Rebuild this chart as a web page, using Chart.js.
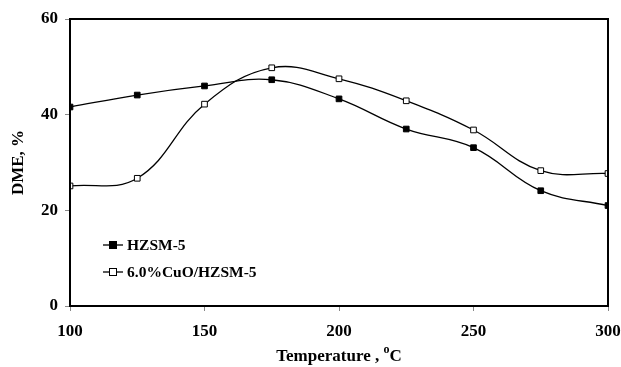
<!DOCTYPE html>
<html>
<head>
<meta charset="utf-8">
<script src="https://cdn.jsdelivr.net/npm/chart.js@4.4.1/dist/chart.umd.min.js"></script>
<style>
  html, body { margin: 0; padding: 0; background: #fff; }
  #wrap { width: 621px; height: 367px; }
</style>
</head>
<body>
<div id="wrap"><canvas id="dme"></canvas></div>
<script>
"use strict";

const temps = [100, 125, 150, 175, 200, 225, 250, 275, 300];
const hzsm = [41.6, 44.1, 46.0, 47.3, 43.3, 37.0, 33.1, 24.1, 21.0];
const cuo = [25.1, 26.7, 42.2, 49.8, 47.5, 42.9, 36.8, 28.3, 27.7];
const seriesNames = ["HZSM-5", "6.0%CuO/HZSM-5"];
const xTicks = [100, 150, 200, 250, 300];
const yTicks = [0, 20, 40, 60];

const FONT = "'Liberation Serif', 'Times New Roman', serif";

function toPoints(values) {
  return values.map((v, i) => ({ x: temps[i], y: v }));
}

// box round the plot, legend inside it, and the x title with a raised "o"
const decorations = {
  id: "decorations",
  afterDraw(chart) {
    const ctx = chart.ctx;
    const a = chart.chartArea;
    ctx.save();
    ctx.strokeStyle = "#000";
    ctx.lineWidth = 2;
    ctx.strokeRect(a.left, a.top, a.right - a.left, a.bottom - a.top);

    // legend
    const rows = [
      { y: 245, fill: "#000", label: seriesNames[0] },
      { y: 272, fill: "#fff", label: seriesNames[1] },
    ];
    rows.forEach((r) => {
      ctx.lineWidth = 1.3;
      ctx.strokeStyle = "#000";
      ctx.beginPath();
      ctx.moveTo(103, r.y);
      ctx.lineTo(123, r.y);
      ctx.stroke();
      ctx.fillStyle = r.fill;
      ctx.fillRect(109, r.y - 4, 8, 8);
      ctx.lineWidth = 1;
      ctx.strokeRect(109.5, r.y - 3.5, 7, 7);
      ctx.fillStyle = "#000";
      ctx.font = "bold 15.5px " + FONT;
      ctx.textBaseline = "middle";
      ctx.textAlign = "left";
      ctx.fillText(r.label, 127, r.y + 1);
    });

    // x axis title
    const main = "Temperature , ";
    ctx.font = "bold 17px " + FONT;
    const w1 = ctx.measureText(main).width;
    ctx.font = "bold 12px " + FONT;
    const w2 = ctx.measureText("o").width;
    ctx.font = "bold 17px " + FONT;
    const w3 = ctx.measureText("C").width;
    const cx = (a.left + a.right) / 2;
    let x = cx - (w1 + w2 + w3) / 2;
    const base = 361;
    ctx.textBaseline = "alphabetic";
    ctx.textAlign = "left";
    ctx.fillText(main, x, base);
    x += w1;
    ctx.font = "bold 12px " + FONT;
    ctx.fillText("o", x, base - 8);
    x += w2;
    ctx.font = "bold 17px " + FONT;
    ctx.fillText("C", x, base);
    ctx.restore();
  },
};

new Chart(document.getElementById("dme"), {
  type: "line",
  data: {
    datasets: [
      {
        label: seriesNames[0],
        data: toPoints(hzsm),
        borderColor: "#000",
        borderWidth: 1.3,
        backgroundColor: "#000",
        pointStyle: "rect",
        pointRadius: 4,
        pointBorderWidth: 1,
        pointBorderColor: "#000",
        pointBackgroundColor: "#000",
        tension: 0.4,
        fill: false,
      },
      {
        label: seriesNames[1],
        data: toPoints(cuo),
        borderColor: "#000",
        borderWidth: 1.3,
        backgroundColor: "#fff",
        pointStyle: "rect",
        pointRadius: 4,
        pointBorderWidth: 1,
        pointBorderColor: "#000",
        pointBackgroundColor: "#fff",
        tension: 0.4,
        fill: false,
      },
    ],
  },
  options: {
    responsive: true,
    maintainAspectRatio: false,
    animation: false,
    layout: { padding: { top: 19, right: 0, left: 0, bottom: 0 } },
    plugins: {
      legend: { display: false },
      tooltip: { enabled: false },
    },
    scales: {
      x: {
        type: "linear",
        min: 100,
        max: 300,
        afterBuildTicks: (axis) => {
          axis.ticks = xTicks.map((v) => ({ value: v }));
        },
        afterFit: (axis) => {
          axis.height = 61;
          axis.paddingRight = 13;
        },
        grid: {
          drawOnChartArea: false,
          drawTicks: true,
          tickLength: 5,
          color: "#888",
        },
        border: { display: true, color: "#000", width: 2 },
        ticks: {
          color: "#000",
          padding: 10,
          font: { family: FONT, size: 17, weight: "bold" },
        },
      },
      y: {
        min: 0,
        max: 60,
        afterBuildTicks: (axis) => {
          axis.ticks = yTicks.map((v) => ({ value: v }));
        },
        afterFit: (axis) => {
          axis.width = 70;
        },
        grid: {
          drawOnChartArea: false,
          drawTicks: true,
          tickLength: 5,
          color: "#888",
        },
        border: { display: true, color: "#000", width: 2 },
        ticks: {
          color: "#000",
          padding: 7,
          font: { family: FONT, size: 17, weight: "bold" },
        },
        title: {
          display: true,
          text: "DME, %",
          color: "#000",
          padding: { top: 8, bottom: 0 },
          font: { family: FONT, size: 17, weight: "bold" },
        },
      },
    },
  },
  plugins: [decorations],
});
</script>
</body>
</html>
